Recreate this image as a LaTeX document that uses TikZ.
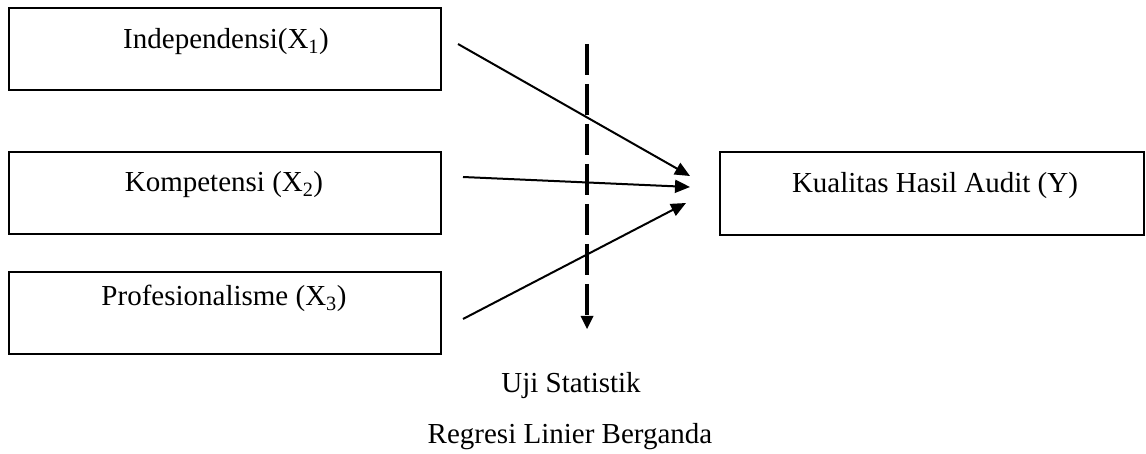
\documentclass[tikz,border=0pt]{standalone}
\usepackage{fontspec}
\setmainfont{Liberation Serif}
\usetikzlibrary{arrows.meta}
\tikzset{
  boxx/.style={draw, line width=2.2pt, minimum width=432pt, minimum height=82pt, inner sep=0pt},
  ybox/.style={draw, line width=2.2pt, minimum width=424pt, minimum height=83pt, inner sep=0pt},
  lbl/.style={font=\fontsize{29}{34}\selectfont, inner sep=0pt, anchor=base},
  arr/.style={line width=2pt, -{Triangle[length=15pt,width=13pt]}},
  dsh/.style={line width=3.2pt, dash pattern=on 31pt off 9pt, -{Triangle[length=13pt,width=13pt,line width=0pt]}}
}
\begin{document}
\begin{tikzpicture}[x=1pt,y=-1pt]
\useasboundingbox (0,0) rectangle (1146,454);
\node[boxx] (b1) at (225,49) {};
\node[boxx] (b2) at (225,193) {};
\node[boxx] (b3) at (225,313) {};
\node[ybox] (by) at (932,193.5) {};
\node[lbl] (t1) at (226,49) {Independensi(X\textsubscript{1})};
\node[lbl] (t2) at (224,192) {Kompetensi (X\textsubscript{2})};
\node[lbl] (t3) at (224,306) {Profesionalisme (X\textsubscript{3})};
\node[lbl] (ty) at (935,193) {Kualitas Hasil Audit (Y)};
\node[lbl] (u1) at (571,392) {Uji Statistik};
\node[lbl] (u2) at (570,443) {Regresi Linier Berganda};
\coordinate (s1) at (458,44);
\coordinate (s2) at (463,177);
\coordinate (s3) at (463,319);
\coordinate (e1) at (690,176);
\coordinate (e2) at (690,187);
\coordinate (e3) at (686,203);
\coordinate (d1) at (587,44);
\coordinate (d2) at (587,329);
\draw[arr] (s1) -- (e1);
\draw[arr] (s2) -- (e2);
\draw[arr] (s3) -- (e3);
\draw[dsh] (d1) -- (d2);
\end{tikzpicture}
\end{document}
